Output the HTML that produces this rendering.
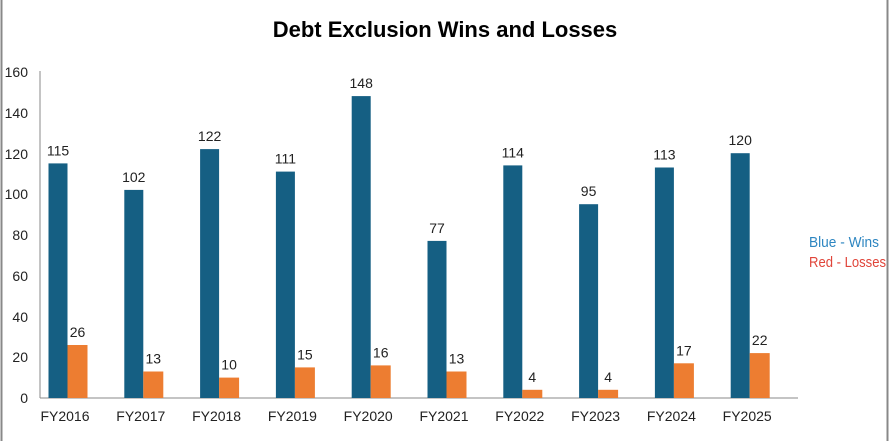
<!DOCTYPE html>
<html><head><meta charset="utf-8"><style>
body{margin:0;background:#fff;}
svg{display:block;font-family:"Liberation Sans",sans-serif;}
</style></head><body>
<svg width="889" height="441" xmlns="http://www.w3.org/2000/svg">
<rect x="0" y="0" width="889" height="441" fill="#fff"/>
<line x1="1.5" y1="0" x2="1.5" y2="441" stroke="#888" stroke-width="2"/>
<line x1="887.5" y1="0" x2="887.5" y2="441" stroke="#888" stroke-width="2"/>
<text x="445" y="37" text-anchor="middle" font-size="22" font-weight="bold" fill="#000">Debt Exclusion Wins and Losses</text>
<g font-size="14" fill="#222" text-anchor="end">
<text x="28" y="403">0</text><text x="28" y="362">20</text><text x="28" y="322">40</text><text x="28" y="281">60</text><text x="28" y="240">80</text><text x="28" y="199">100</text><text x="28" y="159">120</text><text x="28" y="118">140</text><text x="28" y="77">160</text>
</g>
<line x1="40" y1="71" x2="40" y2="398" stroke="#888" stroke-width="1"/>
<line x1="40" y1="398" x2="798" y2="398" stroke="#888" stroke-width="1"/>
<g fill="#155F83">
<rect x="48.5" y="163.4" width="19" height="234.6"/>
<rect x="124.3" y="189.9" width="19" height="208.1"/>
<rect x="200.1" y="149.1" width="19" height="248.9"/>
<rect x="275.9" y="171.6" width="19" height="226.4"/>
<rect x="351.7" y="96.1" width="19" height="301.9"/>
<rect x="427.5" y="240.9" width="19" height="157.1"/>
<rect x="503.3" y="165.4" width="19" height="232.6"/>
<rect x="579.1" y="204.2" width="19" height="193.8"/>
<rect x="654.9" y="167.5" width="19" height="230.5"/>
<rect x="730.7" y="153.2" width="19" height="244.8"/>
</g>
<g fill="#ED7D31">
<rect x="67.5" y="345" width="20" height="53"/>
<rect x="143.3" y="371.5" width="20" height="26.5"/>
<rect x="219.1" y="377.6" width="20" height="20.4"/>
<rect x="294.9" y="367.4" width="20" height="30.6"/>
<rect x="370.7" y="365.4" width="20" height="32.6"/>
<rect x="446.5" y="371.5" width="20" height="26.5"/>
<rect x="522.3" y="389.8" width="20" height="8.2"/>
<rect x="598.1" y="389.8" width="20" height="8.2"/>
<rect x="673.9" y="363.3" width="20" height="34.7"/>
<rect x="749.7" y="353.1" width="20" height="44.9"/>
</g>
<g font-size="14" fill="#222" text-anchor="middle">
<text x="58" y="155.4">115</text><text x="77.5" y="337">26</text>
<text x="133.8" y="181.9">102</text><text x="153.3" y="363.5">13</text>
<text x="209.6" y="141.1">122</text><text x="229.1" y="369.6">10</text>
<text x="285.4" y="163.6">111</text><text x="304.9" y="359.4">15</text>
<text x="361.2" y="88.1">148</text><text x="380.7" y="357.4">16</text>
<text x="437" y="232.9">77</text><text x="456.5" y="363.5">13</text>
<text x="512.8" y="157.4">114</text><text x="532.3" y="381.8">4</text>
<text x="588.6" y="196.2">95</text><text x="608.1" y="381.8">4</text>
<text x="664.4" y="159.5">113</text><text x="683.9" y="355.3">17</text>
<text x="740.2" y="145.2">120</text><text x="759.7" y="345.1">22</text>
</g>
<g font-size="14" fill="#222" text-anchor="middle">
<text x="65" y="421">FY2016</text><text x="140.8" y="421">FY2017</text><text x="216.6" y="421">FY2018</text><text x="292.4" y="421">FY2019</text><text x="368.2" y="421">FY2020</text><text x="444" y="421">FY2021</text><text x="519.8" y="421">FY2022</text><text x="595.6" y="421">FY2023</text><text x="671.4" y="421">FY2024</text><text x="747.2" y="421">FY2025</text>
</g>
<text x="809" y="247" font-size="15" fill="#2E86C1" textLength="70" lengthAdjust="spacingAndGlyphs">Blue - Wins</text>
<text x="809" y="267" font-size="15" fill="#E0453A" textLength="77" lengthAdjust="spacingAndGlyphs">Red - Losses</text>
</svg>
</body></html>
